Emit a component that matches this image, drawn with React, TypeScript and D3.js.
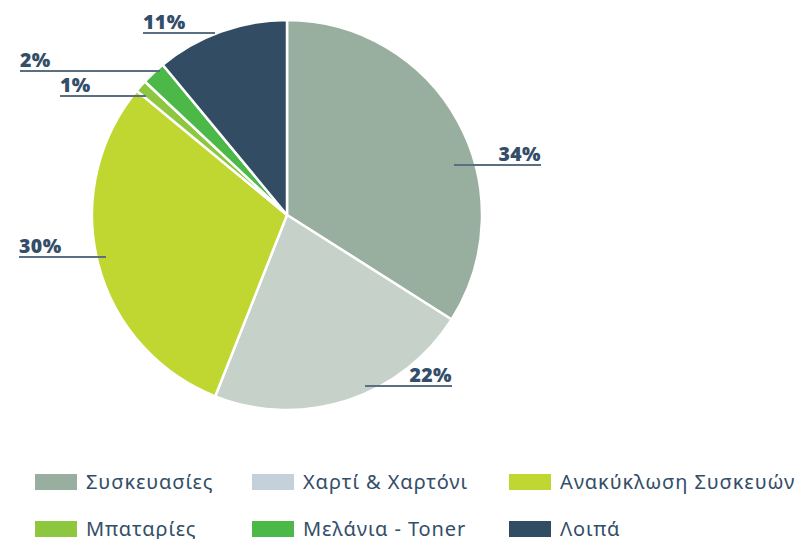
import React from "react";
import * as d3 from "d3";

const categories = ["Συσκευασίες", "Χαρτί & Χαρτόνι", "Ανακύκλωση Συσκευών", "Μπαταρίες", "Μελάνια - Toner", "Λοιπά"];
const values = [34, 22, 30, 1, 2, 11];
const sliceColors = ["#98ae9f", "#c5d1c9", "#bfd730", "#8dc63f", "#4cb848", "#324c64"];
const legendColors = ["#98ae9f", "#c4d0da", "#bfd730", "#8dc63f", "#4cb848", "#324c64"];

// label layout: line y, inner end x, outer end x (text side)
const labelLineY = [165, 386, 257, 96, 71, 33];
const labelInnerX = [454, 365, 106, 146, 160, 215];
const labelOuterX = [541, 452, 19, 60, 20, 143];

const W = 802, H = 539;
const cx = 287, cy = 215, R = 195;
const textColor = "#334e68";

export default function App() {
  const pie = d3.pie<number>().sort(null).value((d) => d)(values);
  const arc = d3.arc<d3.PieArcDatum<number>>().innerRadius(0).outerRadius(R);
  const legendX = [35, 252, 509];
  const legendY = [474, 521];
  return (
    <svg width={W} height={H} style={{ position: "absolute", left: 0, top: 0, background: "#fff" }}>
      <g transform={`translate(${cx},${cy})`}>
        {pie.map((p, i) => (
          <path key={i} d={arc(p) || ""} fill={sliceColors[i]} stroke="#fff" strokeWidth={2.5} strokeLinejoin="round" />
        ))}
      </g>
      {pie.map((p, i) => {
        const mid = (p.startAngle + p.endAngle) / 2;
        const right = Math.sin(mid) > 0;
        const y = labelLineY[i];
        const innerX = labelInnerX[i];
        const outerX = labelOuterX[i];
        return (
          <g key={i}>
            <line x1={innerX} x2={outerX} y1={y} y2={y} stroke="#5a6f82" strokeWidth={2} />
            <text
              x={outerX}
              y={y - 4}
              textAnchor={right ? "end" : "start"}
              fontFamily="'Open Sans', 'Noto Sans', sans-serif"
              fontWeight={800}
              fontSize={19.5}
              letterSpacing={0.4}
              fill={textColor}
            >
              {values[i]}%
            </text>
          </g>
        );
      })}
      {categories.map((c, i) => {
        const col = i % 3;
        const row = Math.floor(i / 3);
        const x = legendX[col];
        const y = legendY[row];
        return (
          <g key={c}>
            <rect x={x} y={y} width={42} height={16} fill={legendColors[i]} />
            <text x={x + 51} y={y + 15} fontFamily="'Noto Sans', sans-serif" fontSize={20} letterSpacing={0.9} fill={textColor}>
              {c}
            </text>
          </g>
        );
      })}
    </svg>
  );
}
